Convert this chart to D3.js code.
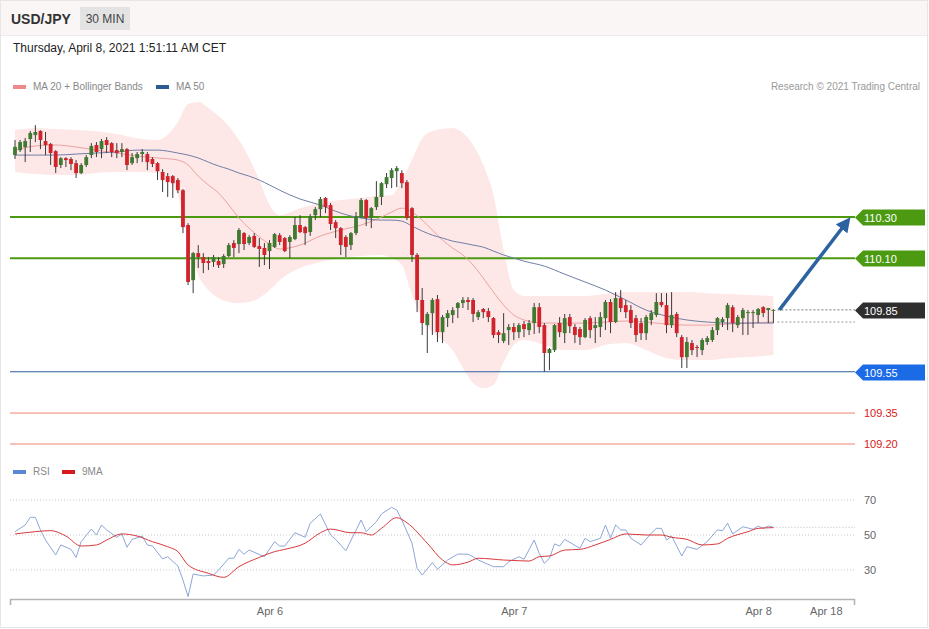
<!DOCTYPE html>
<html>
<head>
<meta charset="utf-8">
<title>USD/JPY 30 MIN</title>
<script src="https://d3js.org/d3.v7.min.js"></script>
<style>
  body { margin: 0; background: #fff; }
  svg { font-family: "Liberation Sans", Arial, sans-serif; }
</style>
</head>
<body>
<svg width="929" height="629"></svg>
<script>
// candles (30 min), index 0 = Apr 4 23:00 CET
const candleOpen = [110.600,110.624,110.639,110.678,110.697,110.717,110.668,110.654,110.619,110.552,
  110.585,110.581,110.561,110.513,110.552,110.600,110.649,110.629,110.673,110.658,
  110.624,110.615,110.629,110.561,110.585,110.605,110.605,110.581,110.561,110.518,
  110.498,110.498,110.479,110.430,110.261,109.994,110.125,110.106,110.087,110.082,
  110.087,110.072,110.111,110.174,110.169,110.222,110.174,110.208,110.159,110.150,
  110.135,110.155,110.212,110.198,110.179,110.193,110.261,110.251,110.227,110.309,
  110.338,110.392,110.358,110.275,110.246,110.203,110.164,110.222,110.300,110.382,
  110.295,110.348,110.397,110.459,110.489,110.522,110.513,110.469,110.343,110.116,
  109.898,109.776,109.834,109.902,109.742,109.810,109.825,109.859,109.883,109.898,
  109.898,109.815,109.854,109.844,109.810,109.742,109.699,109.752,109.767,109.742,
  109.781,109.752,109.786,109.863,109.776,109.641,109.655,109.786,109.737,109.815,
  109.767,109.757,109.718,109.810,109.762,109.767,109.810,109.888,109.791,109.907,
  109.873,109.849,109.810,109.786,109.737,109.801,109.825,109.888,109.873,109.776,
  109.830,109.718,109.621,109.689,109.670,109.655,109.694,109.704,109.752,109.791,
  109.810,109.863,109.776,109.810,109.835,109.835,109.825,109.863,109.849,109.850];
const candleHigh = [110.673,110.673,110.683,110.717,110.745,110.720,110.712,110.659,110.624,110.590,
  110.590,110.590,110.576,110.561,110.600,110.658,110.663,110.678,110.687,110.663,
  110.658,110.658,110.634,110.610,110.615,110.629,110.615,110.590,110.566,110.532,
  110.513,110.503,110.489,110.435,110.270,110.130,110.164,110.125,110.106,110.116,
  110.106,110.120,110.174,110.188,110.246,110.227,110.212,110.222,110.198,110.174,
  110.188,110.222,110.222,110.203,110.212,110.300,110.309,110.256,110.314,110.348,
  110.397,110.397,110.368,110.285,110.251,110.212,110.227,110.324,110.392,110.387,
  110.348,110.474,110.469,110.513,110.537,110.547,110.527,110.479,110.348,110.125,
  109.956,109.839,109.907,109.922,109.825,109.849,109.863,109.888,109.912,109.912,
  109.907,109.849,109.859,109.859,109.815,109.752,109.834,109.781,109.786,109.786,
  109.796,109.801,109.883,109.883,109.786,109.665,109.781,109.815,109.830,109.830,
  109.781,109.767,109.810,109.820,109.815,109.839,109.898,109.902,109.936,109.946,
  109.898,109.873,109.825,109.810,109.825,109.849,109.931,109.931,109.931,109.936,
  109.839,109.728,109.718,109.704,109.680,109.713,109.723,109.767,109.815,109.815,
  109.883,109.873,109.825,109.859,109.849,109.849,109.859,109.868,109.859,109.853];
const candleLow = [110.581,110.615,110.566,110.615,110.663,110.629,110.600,110.552,110.513,110.537,
  110.542,110.527,110.489,110.508,110.542,110.585,110.590,110.585,110.610,110.590,
  110.585,110.590,110.527,110.552,110.561,110.566,110.527,110.542,110.479,110.421,
  110.397,110.392,110.416,110.222,109.970,109.931,110.053,110.028,110.043,110.058,
  110.053,110.053,110.106,110.106,110.125,110.140,110.164,110.150,110.058,110.067,
  110.048,110.150,110.164,110.130,110.101,110.188,110.222,110.164,110.208,110.285,
  110.300,110.319,110.237,110.198,110.116,110.106,110.140,110.212,110.295,110.256,
  110.246,110.334,110.358,110.440,110.440,110.445,110.440,110.285,110.082,109.839,
  109.728,109.641,109.728,109.694,109.689,109.767,109.786,109.810,109.859,109.849,
  109.791,109.801,109.810,109.791,109.713,109.689,109.689,109.680,109.704,109.713,
  109.718,109.728,109.733,109.737,109.549,109.558,109.646,109.718,109.689,109.737,
  109.689,109.680,109.713,109.713,109.689,109.718,109.752,109.737,109.786,109.839,
  109.810,109.762,109.694,109.704,109.704,109.776,109.815,109.863,109.737,109.762,
  109.718,109.568,109.568,109.631,109.621,109.631,109.680,109.694,109.728,109.767,
  109.752,109.742,109.762,109.728,109.728,109.762,109.786,109.815,109.786,109.786];
const candleClose = [110.640,110.663,110.668,110.707,110.712,110.673,110.649,110.610,110.542,110.585,
  110.576,110.557,110.513,110.552,110.590,110.644,110.615,110.668,110.649,110.615,
  110.610,110.629,110.552,110.590,110.605,110.615,110.566,110.557,110.522,110.479,
  110.469,110.464,110.430,110.251,109.985,110.125,110.106,110.077,110.077,110.106,
  110.067,110.111,110.164,110.150,110.237,110.169,110.203,110.155,110.145,110.116,
  110.174,110.217,110.179,110.135,110.203,110.261,110.227,110.222,110.305,110.338,
  110.387,110.348,110.266,110.246,110.164,110.155,110.222,110.300,110.382,110.295,
  110.343,110.397,110.464,110.493,110.527,110.537,110.464,110.295,110.116,109.898,
  109.786,109.830,109.898,109.742,109.815,109.834,109.849,109.883,109.898,109.888,
  109.830,109.839,109.839,109.815,109.728,109.728,109.737,109.767,109.742,109.776,
  109.757,109.786,109.863,109.767,109.641,109.660,109.776,109.742,109.810,109.771,
  109.728,109.718,109.801,109.752,109.776,109.815,109.888,109.791,109.907,109.859,
  109.839,109.786,109.728,109.737,109.815,109.834,109.888,109.873,109.776,109.825,
  109.737,109.621,109.694,109.655,109.665,109.704,109.713,109.752,109.810,109.805,
  109.873,109.786,109.815,109.849,109.839,109.839,109.854,109.835,109.859,109.850];

// MA 20 + Bollinger Bands and MA 50, sampled at candle indices
const bandIdx = [0,4,8,12,16,20,24,28,32,34,36,38,40,42,44,46,48,50,52,56,60,64,68,72,74,76,78,80,82,84,
  86,88,90,92,94,96,98,100,104,108,112,116,120,124,128,132,136,140,144,149];
const bbUpper = [110.721,110.731,110.726,110.721,110.716,110.702,110.682,110.673,110.760,110.847,
  110.857,110.828,110.789,110.741,110.673,110.586,110.479,110.358,110.309,110.343,
  110.367,110.382,110.392,110.406,110.406,110.479,110.576,110.682,110.716,110.726,
  110.731,110.707,110.649,110.552,110.406,110.140,109.946,109.917,109.917,109.917,
  109.917,109.927,109.936,109.936,109.936,109.936,109.931,109.927,109.922,109.917];
const bbLower = [110.518,110.508,110.503,110.503,110.513,110.518,110.518,110.513,110.406,110.188,
  110.019,109.946,109.907,109.888,109.883,109.888,109.907,109.946,109.994,110.053,
  110.082,110.101,110.111,110.116,110.101,110.067,109.922,109.810,109.742,109.704,
  109.655,109.568,109.495,109.471,109.486,109.597,109.680,109.704,109.680,109.655,
  109.655,109.680,109.689,109.655,109.616,109.607,109.607,109.616,109.621,109.631];
const ma20 = [110.624,110.644,110.649,110.639,110.624,110.610,110.595,110.586,110.576,110.552,
  110.498,110.455,110.416,110.358,110.295,110.246,110.203,110.169,110.145,110.164,
  110.208,110.237,110.261,110.300,110.324,110.343,110.324,110.285,110.237,110.188,
  110.149,110.116,110.067,110.004,109.936,109.873,109.825,109.801,109.786,109.786,
  109.786,109.791,109.796,109.791,109.781,109.776,109.776,109.781,109.786,109.791];
const ma50 = [110.600,110.600,110.600,110.605,110.610,110.615,110.624,110.624,110.610,110.600,
  110.586,110.566,110.547,110.532,110.513,110.498,110.479,110.455,110.430,110.387,
  110.358,110.319,110.295,110.285,110.285,110.280,110.256,110.232,110.212,110.198,
  110.183,110.174,110.164,110.154,110.135,110.116,110.101,110.086,110.062,110.023,
  109.985,109.946,109.898,109.849,109.820,109.801,109.791,109.786,109.786,109.786];

// RSI and its 9-period MA, sampled at candle indices
const rsiIdx = [0,2,3,4,5,6,8,9,11,12,13,15,16,17,18,20,21,22,23,25,26,27,29,30,32,33,34,35,37,39,
  40,42,43,44,45,46,49,51,52,53,55,57,58,60,62,63,65,68,69,71,72,74,75,76,78,79,80,82,83,85,
  87,89,90,91,94,96,97,99,100,102,103,104,105,106,107,108,111,112,113,115,116,117,118,119,120,121,123,125,126,127,
  128,129,131,132,134,136,138,139,140,141,143,145,146,147,148,149];
const rsi = [51.9,55.7,60.1,60.1,52.9,47.1,38.6,44.3,41.8,37.2,46.2,53.4,50.0,55.7,52.9,48.7,50.6,43.0,47.5,49.4,
  44.3,43.7,36.3,37.6,32.3,24.3,14.8,27.7,26.6,27.1,30.0,36.7,36.7,41.8,39.0,41.4,37.6,46.2,43.7,43.7,
  51.3,48.7,56.7,62.0,50.0,47.5,41.0,58.6,51.9,57.6,62.0,65.8,64.3,58.6,45.3,31.0,27.1,34.2,30.4,35.7,
  39.1,39.0,37.6,35.7,31.9,31.9,34.7,37.6,36.1,47.1,39.5,33.8,36.7,44.9,43.7,47.5,42.4,48.1,46.2,48.1,
  55.7,48.1,55.7,52.9,52.9,48.1,44.3,51.0,53.8,53.8,47.1,49.4,38.0,43.3,41.8,46.2,52.9,52.5,56.7,50.6,
  54.7,53.3,55.1,53.8,55.1,54.4];
const maIdx = [0,4,7,10,13,16,18,21,24,27,30,32,34,38,41,44,48,51,53,57,60,62,66,68,70,72,75,77,81,84,
  86,89,91,96,99,101,103,105,108,111,114,117,120,124,127,129,132,135,138,140,144,146,149];
const rsiMa = [50.6,51.9,52.5,49.4,43.7,44.3,47.1,50.6,49.4,46.2,43.3,40.5,32.9,28.1,25.8,31.9,37.2,40.5,41.8,45.3,
  51.3,53.4,51.3,51.3,50.0,53.8,59.9,57.0,45.3,35.7,32.9,34.5,36.7,35.7,35.3,35.1,37.6,38.0,41.4,41.8,
  44.3,47.5,50.6,50.0,50.0,48.7,47.5,44.3,44.9,48.1,51.9,53.8,54.2];

// key levels
const resistLevels = [110.30, 110.10];
const lastPrice = 109.85;
const pivotLevel = 109.55;
const supportLevels = [109.35, 109.20];
const rsiTicks = [70, 50, 30];
const dateTickIdx = [50, 98, 146, 159.3];
const dateTickLabels = ["Apr 6", "Apr 7", "Apr 8", "Apr 18"];

const svg = d3.select("svg");
const left = 10, right = 855;

// header
svg.append("rect").attr("x", 0.5).attr("y", 0.5).attr("width", 927).attr("height", 627)
  .attr("fill", "none").attr("stroke", "#e6e6e6");
svg.append("rect").attr("x", 1).attr("y", 1).attr("width", 926).attr("height", 34).attr("fill", "#faf6f6");
svg.append("line").attr("x1", 1).attr("x2", 927).attr("y1", 35.5).attr("y2", 35.5).attr("stroke", "#ececec");
svg.append("text").attr("x", 11).attr("y", 24).attr("font-size", 14).attr("font-weight", "bold")
  .attr("fill", "#333").text("USD/JPY");
svg.append("rect").attr("x", 80).attr("y", 7).attr("width", 50).attr("height", 23).attr("fill", "#e3e3e3");
svg.append("text").attr("x", 105).attr("y", 23).attr("text-anchor", "middle").attr("font-size", 12)
  .attr("fill", "#444").text("30 MIN");
svg.append("text").attr("x", 13).attr("y", 52).attr("font-size", 12).attr("fill", "#222")
  .text("Thursday, April 8, 2021 1:51:11 AM CET");

// legends
function legendItem(x, y, color, label) {
  svg.append("rect").attr("x", x).attr("y", y - 5).attr("width", 13).attr("height", 4).attr("fill", color);
  svg.append("text").attr("x", x + 20).attr("y", y).attr("font-size", 10).attr("fill", "#888").text(label);
}
legendItem(13, 90, "#f08a8a", "MA 20 + Bollinger Bands");
legendItem(156, 90, "#2c5a94", "MA 50");
legendItem(13, 475, "#5b86d6", "RSI");
legendItem(62, 475, "#d71920", "9MA");
svg.append("text").attr("x", 920).attr("y", 90).attr("text-anchor", "end").attr("font-size", 10)
  .attr("fill", "#9a9a9a").text("Research © 2021 Trading Central");

// scales
const x = d3.scaleLinear().domain([0, 149]).range([15, 773.4]);
const y = d3.scaleLinear().domain([109.20, 110.30]).range([444, 217]);
const yr = d3.scaleLinear().domain([30, 70]).range([570, 500]);

// bollinger band
const bandPts = bandIdx.map((d, i) => ({i: d, up: bbUpper[i], lo: bbLower[i], m20: ma20[i], m50: ma50[i]}));
svg.append("path").datum(bandPts)
  .attr("fill", "#fde4e4").attr("opacity", 0.9)
  .attr("d", d3.area().curve(d3.curveMonotoneX).x(d => x(d.i)).y0(d => y(d.lo)).y1(d => y(d.up)));

// horizontal level lines
resistLevels.forEach(v => {
  svg.append("line").attr("x1", left).attr("x2", right).attr("y1", y(v)).attr("y2", y(v))
    .attr("stroke", "#4c9a12").attr("stroke-width", 2);
});
svg.append("line").attr("x1", left).attr("x2", right).attr("y1", y(pivotLevel)).attr("y2", y(pivotLevel))
  .attr("stroke", "#2d5f9e").attr("stroke-width", 1.2);
supportLevels.forEach(v => {
  svg.append("line").attr("x1", left).attr("x2", right).attr("y1", y(v)).attr("y2", y(v))
    .attr("stroke", "#ee8470").attr("stroke-width", 1);
});

// moving averages
svg.append("path").datum(bandPts).attr("fill", "none").attr("stroke", "#eaa3a0").attr("stroke-width", 1)
  .attr("d", d3.line().curve(d3.curveMonotoneX).x(d => x(d.i)).y(d => y(d.m20)));
svg.append("path").datum(bandPts).attr("fill", "none").attr("stroke", "#6f7fa6").attr("stroke-width", 1)
  .attr("d", d3.line().curve(d3.curveMonotoneX).x(d => x(d.i)).y(d => y(d.m50)));

// candles
const candles = candleOpen.map((o, i) => ({i, o, h: candleHigh[i], l: candleLow[i], c: candleClose[i]}));
const cg = svg.append("g");
cg.selectAll(".wick").data(candles).join("line")
  .attr("x1", d => x(d.i)).attr("x2", d => x(d.i))
  .attr("y1", d => y(d.h)).attr("y2", d => y(d.l))
  .attr("stroke", "#3a3a3a").attr("stroke-width", 1);
cg.selectAll(".body").data(candles).join("rect")
  .attr("x", d => x(d.i) - 1.9).attr("width", 3.8)
  .attr("y", d => y(Math.max(d.o, d.c)))
  .attr("height", d => Math.max(1, Math.abs(y(d.o) - y(d.c))))
  .attr("fill", d => d.c >= d.o ? "#3f7a30" : "#d0232b");

// dotted extensions from the last candle
const lastX = x(149) + 4;
svg.append("line").attr("x1", lastX).attr("x2", right).attr("y1", y(lastPrice)).attr("y2", y(lastPrice))
  .attr("stroke", "#777").attr("stroke-dasharray", "2,2");
svg.append("line").attr("x1", lastX).attr("x2", right).attr("y1", y(ma20[ma20.length - 1])).attr("y2", y(ma20[ma20.length - 1]))
  .attr("stroke", "#999").attr("stroke-dasharray", "2,2");

// arrow
svg.append("defs").append("marker").attr("id", "ah").attr("viewBox", "0 0 10 10")
  .attr("refX", 5).attr("refY", 5).attr("markerWidth", 4.2).attr("markerHeight", 4.2).attr("orient", "auto")
  .append("path").attr("d", "M0,0 L10,5 L0,10 z").attr("fill", "#2c62a0");
svg.append("line").attr("x1", lastX + 2).attr("y1", y(lastPrice)).attr("x2", 846).attr("y2", y(resistLevels[0]) + 6)
  .attr("stroke", "#2c62a0").attr("stroke-width", 3.5).attr("marker-end", "url(#ah)");

// price tags
function tag(v, fill) {
  const yy = Math.round(y(v)) + 0.5;
  svg.append("path").attr("d", `M${right},${yy} L${right + 8},${yy - 8} L925,${yy - 8} L925,${yy + 8} L${right + 8},${yy + 8} Z`)
    .attr("fill", fill);
  svg.append("text").attr("x", right + 9).attr("y", yy + 4).attr("font-size", 11).attr("fill", "#fff")
    .text(v.toFixed(2));
}
resistLevels.forEach(v => tag(v, "#4c9a12"));
tag(lastPrice, "#2e2e2e");
tag(pivotLevel, "#1b6ae6");
supportLevels.forEach(v => {
  svg.append("text").attr("x", right + 9).attr("y", y(v) + 4).attr("font-size", 11).attr("fill", "#d52020")
    .text(v.toFixed(2));
});

// RSI panel
rsiTicks.forEach(v => {
  svg.append("line").attr("x1", left).attr("x2", right).attr("y1", yr(v)).attr("y2", yr(v))
    .attr("stroke", "#c8c8c8").attr("stroke-dasharray", "1,2");
  svg.append("text").attr("x", right + 9).attr("y", yr(v) + 4).attr("font-size", 11).attr("fill", "#666")
    .text(v);
});
svg.append("line").attr("x1", x(149)).attr("x2", right).attr("y1", yr(rsi[rsi.length - 1])).attr("y2", yr(rsi[rsi.length - 1]))
  .attr("stroke", "#bbb").attr("stroke-dasharray", "1,2");
svg.append("path").datum(rsiIdx.map((d, i) => [d, rsi[i]])).attr("fill", "none")
  .attr("stroke", "#8ea6d8").attr("stroke-width", 1)
  .attr("d", d3.line().x(d => x(d[0])).y(d => yr(d[1])));
svg.append("path").datum(maIdx.map((d, i) => [d, rsiMa[i]])).attr("fill", "none")
  .attr("stroke", "#d8393c").attr("stroke-width", 1)
  .attr("d", d3.line().curve(d3.curveMonotoneX).x(d => x(d[0])).y(d => yr(d[1])));

// date axis
const axis = svg.append("g").attr("transform", "translate(0,599)")
  .call(d3.axisBottom(x).tickValues(dateTickIdx).tickFormat((d, i) => dateTickLabels[i]).tickSize(0).tickPadding(8));
axis.select(".domain").remove();
axis.selectAll("text").attr("font-size", 11).attr("fill", "#666").attr("font-family", "Liberation Sans, Arial, sans-serif");
svg.append("path").attr("d", `M${left + 0.5},605 V599.5 H${right - 0.5} V605`)
  .attr("fill", "none").attr("stroke", "#b5b5b5").attr("stroke-width", 1.6);
</script>
</body>
</html>
